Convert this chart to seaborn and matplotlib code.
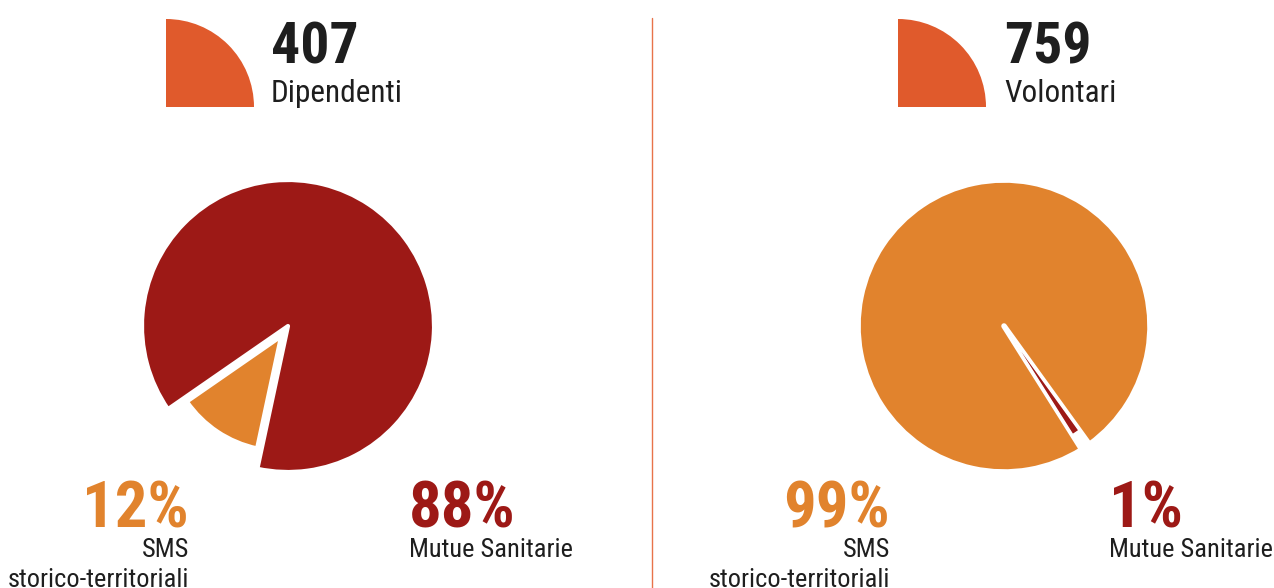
import matplotlib
matplotlib.use("Agg")
import matplotlib.pyplot as plt
import seaborn as sns
from matplotlib.patches import Wedge
from matplotlib.lines import Line2D

# Data
groups = ["Dipendenti", "Volontari"]
totals = [407, 759]
categories = ["SMS\nstorico-territoriali", "Mutue Sanitarie"]
shares_dipendenti = [12, 88]
shares_volontari = [99, 1]

sns.set_theme(style="white")
FONT = ["Roboto Condensed", "DejaVu Sans"]
plt.rcParams["font.family"] = FONT
plt.rcParams["font.stretch"] = "condensed"

ORANGE = "#E1832D"
RED = "#9D1916"
ICON = "#E05A2C"
INK = "#1E1E1E"
palette = sns.color_palette([ORANGE, RED])

W, H = 1274, 588
fig = plt.figure(figsize=(W / 100, H / 100), dpi=100)
fig.patch.set_facecolor("white")


def fx(x):
    return x / W


def fy(y):
    return 1 - y / H


def draw_pie(cx, cy, shares, startangle, minor_idx, explode_amt, minor_radius,
             major_lw=3, minor_lw=3):
    R = 146
    half = 1.2 * R
    ax = fig.add_axes([(cx - half) / W, (H - cy - half) / H, 2 * half / W, 2 * half / H])
    explode = [explode_amt if i == minor_idx else 0 for i in range(len(shares))]
    wedges, _ = ax.pie(
        shares,
        colors=palette,
        startangle=startangle,
        explode=explode,
        counterclock=True,
        wedgeprops=dict(edgecolor="white", linewidth=major_lw, joinstyle="round"),
    )
    wedges[minor_idx].set_radius(minor_radius)
    wedges[minor_idx].set_linewidth(minor_lw)
    ax.set_xlim(-1.2, 1.2)
    ax.set_ylim(-1.2, 1.2)
    ax.set_aspect("equal")
    ax.axis("off")


def draw_icon(x0, y0, size):
    ax = fig.add_axes([x0 / W, (H - y0 - size) / H, size / W, size / H])
    ax.add_patch(Wedge((0, 0), 1, 0, 90, color=ICON, lw=0))
    ax.set_xlim(0, 1)
    ax.set_ylim(0, 1)
    ax.axis("off")


def draw_header(x_icon, x_text, total, name):
    draw_icon(x_icon, 19, 88)
    fig.text(fx(x_text), fy(63), str(total), ha="left", va="baseline",
             fontsize=41.5, fontweight="bold", color=INK)
    fig.text(fx(x_text), fy(102), name, ha="left", va="baseline",
             fontsize=22.5, color=INK)


def draw_labels(x_right, x_left, shares):
    # first category: right-aligned to the left of the pie
    fig.text(fx(x_right), fy(528), f"{shares[0]}%", ha="right", va="baseline",
             fontsize=46.5, fontweight="bold", color=ORANGE)
    for i, line in enumerate(categories[0].split("\n")):
        fig.text(fx(x_right), fy(557 + 30 * i), line, ha="right", va="baseline",
                 fontsize=19, color=INK)
    # second category: left-aligned to the right of the pie
    fig.text(fx(x_left), fy(528), f"{shares[1]}%", ha="left", va="baseline",
             fontsize=46.5, fontweight="bold", color=RED)
    for i, line in enumerate(categories[1].split("\n")):
        fig.text(fx(x_left), fy(557 + 30 * i), line, ha="left", va="baseline",
                 fontsize=19, color=INK)


# Left panel: employees
draw_header(166, 271, totals[0], groups[0])
draw_pie(288, 326, shares_dipendenti, startangle=214.7, minor_idx=0,
         explode_amt=0.085, minor_radius=0.785)
draw_labels(189, 409, shares_dipendenti)

# Right panel: volunteers
draw_header(898, 1004, totals[1], groups[1])
draw_pie(1004, 326, shares_volontari, startangle=305.8, minor_idx=1,
         explode_amt=0.06, minor_radius=0.82, major_lw=4, minor_lw=1)
draw_labels(890, 1109, shares_volontari)

# Divider between the two panels
fig.add_artist(Line2D([fx(652), fx(652)], [0, fy(18)], transform=fig.transFigure,
                      color="#E8734A", lw=1))

fig.savefig("out.png", dpi=100, facecolor="white")
